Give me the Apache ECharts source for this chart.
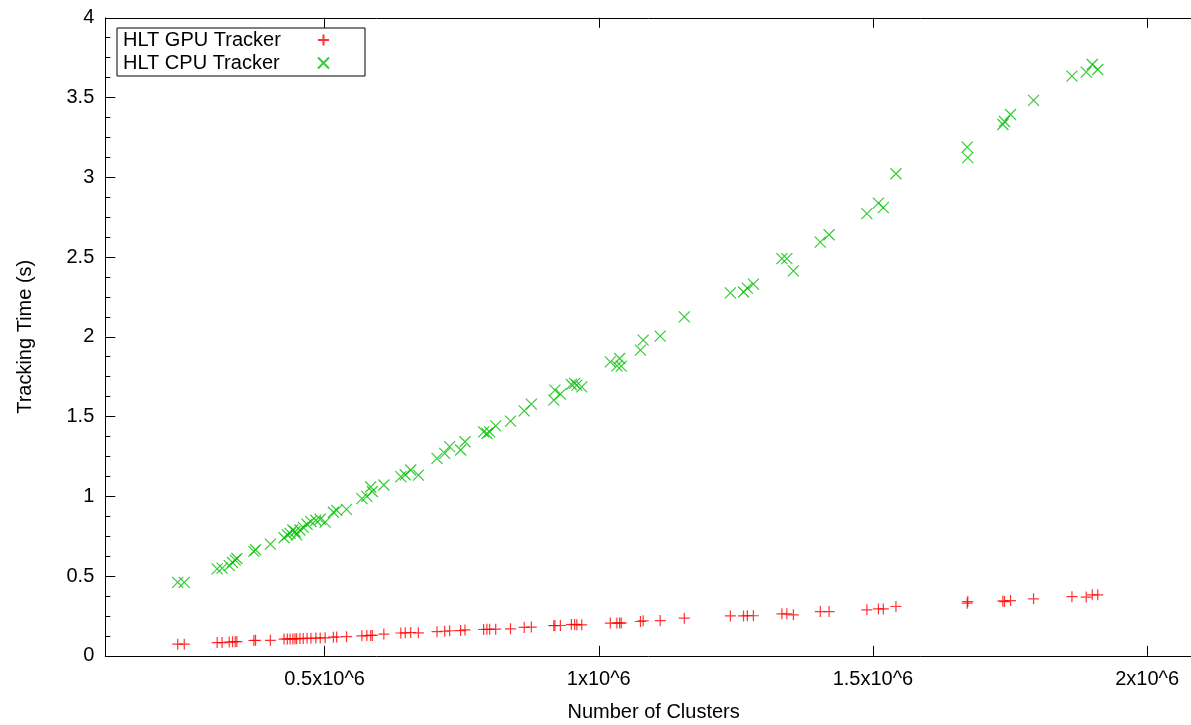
<!DOCTYPE html>
<html>
<head>
<meta charset="utf-8">
<script src="https://cdn.jsdelivr.net/npm/echarts@6/dist/echarts.min.js"></script>
<style>
html,body{margin:0;padding:0;background:#fff;}
#chart{width:1191px;height:725px;}
</style>
</head>
<body>
<div id="chart"></div>
<script>
// Number of clusters per event
const clusters = [232000, 244000, 304000, 313000, 326000, 332000, 337000, 340000, 371000, 374000,
  401000, 426000, 432000, 437000, 442000, 446000, 449000, 455000, 461000, 468000,
  475000, 484000, 492000, 501000, 516000, 522000, 540000, 568000, 577000, 584000,
  587000, 608000, 639000, 647000, 657000, 671000, 705000, 719000, 728000, 748000,
  756000, 790000, 796000, 801000, 812000, 839000, 864000, 877000, 918000, 920000,
  930000, 950000, 956000, 960000, 969000, 1021000, 1033000, 1038000, 1041000, 1076000,
  1081000, 1112000, 1156000, 1240000, 1264000, 1271000, 1282000, 1334000, 1343000, 1355000,
  1404000, 1420000, 1489000, 1510000, 1519000, 1542000, 1672000, 1673000, 1737000, 1740000,
  1751000, 1793000, 1863000, 1889000, 1900000, 1910000];
// HLT GPU Tracker time (s)
const gpuTime = [0.073, 0.073, 0.083, 0.083, 0.086, 0.088, 0.088, 0.089, 0.096, 0.097,
  0.097, 0.105, 0.106, 0.106, 0.106, 0.107, 0.107, 0.108, 0.109, 0.110,
  0.110, 0.111, 0.112, 0.113, 0.117, 0.118, 0.120, 0.125, 0.127, 0.128,
  0.128, 0.136, 0.143, 0.144, 0.146, 0.144, 0.151, 0.154, 0.157, 0.158,
  0.162, 0.165, 0.166, 0.166, 0.167, 0.169, 0.178, 0.180, 0.189, 0.190,
  0.190, 0.196, 0.197, 0.195, 0.194, 0.205, 0.205, 0.206, 0.205, 0.215,
  0.219, 0.221, 0.236, 0.250, 0.250, 0.251, 0.251, 0.263, 0.263, 0.257,
  0.277, 0.277, 0.288, 0.294, 0.294, 0.309, 0.330, 0.340, 0.344, 0.340,
  0.346, 0.357, 0.371, 0.368, 0.382, 0.382];
// HLT CPU Tracker time (s)
const cpuTime = [0.46, 0.46, 0.545, 0.55, 0.565, 0.585, 0.60, 0.61, 0.655, 0.665,
  0.70, 0.74, 0.758, 0.768, 0.789, 0.778, 0.758, 0.789, 0.805, 0.825,
  0.841, 0.850, 0.856, 0.838, 0.900, 0.912, 0.918, 0.985, 1.000, 1.058,
  1.030, 1.071, 1.123, 1.135, 1.165, 1.133, 1.238, 1.269, 1.311, 1.290,
  1.342, 1.404, 1.394, 1.404, 1.442, 1.471, 1.536, 1.578, 1.603, 1.666,
  1.641, 1.701, 1.708, 1.697, 1.686, 1.843, 1.818, 1.864, 1.816, 1.916,
  1.979, 2.004, 2.125, 2.275, 2.281, 2.305, 2.330, 2.490, 2.490, 2.413,
  2.594, 2.640, 2.772, 2.838, 2.810, 3.022, 3.189, 3.123, 3.331, 3.350,
  3.394, 3.482, 3.634, 3.659, 3.707, 3.676];

const xTickValues = [500000, 1000000, 1500000, 2000000];
const xTickLabels = ['0.5x10^6', '1x10^6', '1.5x10^6', '2x10^6'];
const seriesNames = ['HLT GPU Tracker', 'HLT CPU Tracker'];

const FONT = 'Liberation Sans, Arial, sans-serif';
const PLUS = 'path://M5,0L5,10M0,5L10,5';
const CROSS = 'path://M0,0L10,10M10,0L0,10';

function pairs(xs, ys) { return xs.map((x, i) => [x, ys[i]]); }
function xLabel(v) { const i = xTickValues.indexOf(v); return i >= 0 ? xTickLabels[i] : ''; }

const chart = echarts.init(document.getElementById('chart'), null, {renderer: 'canvas'});
chart.setOption({
  animation: false,
  backgroundColor: '#fff',
  textStyle: {fontFamily: FONT},
  grid: {left: 105.3, top: 17.8, width: 1096.6, height: 638, containLabel: false, outerBoundsMode: 'none'},
  legend: {
    orient: 'vertical', align: 'right', left: 117, top: 28,
    padding: [2, 35, 3, 6], itemGap: 3, itemWidth: 11, itemHeight: 11,
    borderColor: '#000', borderWidth: 1, backgroundColor: '#fff',
    data: seriesNames,
    formatter: n => '{a|' + n + '}',
    textStyle: {fontSize: 20, color: '#000', fontFamily: FONT,
      rich: {a: {width: 190, align: 'left', fontSize: 20, lineHeight: 20, fontFamily: FONT, color: '#000'}}}
  },
  xAxis: [{
    type: 'value', min: 100000, max: 2100000, position: 'bottom',
    name: 'Number of Clusters', nameLocation: 'middle', nameGap: 47,
    nameTextStyle: {fontSize: 20, color: '#000', fontFamily: FONT},
    axisLine: {show: true, lineStyle: {color: '#000', width: 1}},
    axisTick: {show: true, inside: true, length: 10, customValues: xTickValues, lineStyle: {color: '#000'}},
    axisLabel: {show: true, customValues: xTickValues, formatter: xLabel, margin: 14, fontSize: 20, color: '#000', fontFamily: FONT},
    splitLine: {show: false}
  }, {
    type: 'value', min: 100000, max: 2100000, position: 'top',
    axisLine: {show: true, onZero: false, lineStyle: {color: '#000', width: 1}},
    axisTick: {show: true, inside: true, length: 10, customValues: xTickValues, lineStyle: {color: '#000'}},
    axisLabel: {show: false},
    splitLine: {show: false}
  }],
  yAxis: [{
    type: 'value', min: 0, max: 4, interval: 0.5, position: 'left',
    name: 'Tracking Time (s)', nameLocation: 'middle', nameGap: 70,
    nameTextStyle: {fontSize: 20, color: '#000', fontFamily: FONT},
    axisLine: {show: true, onZero: false, lineStyle: {color: '#000', width: 1}},
    axisTick: {show: true, inside: true, length: 10, lineStyle: {color: '#000'}},
    minorTick: {show: true, splitNumber: 4, length: 5, lineStyle: {color: '#000'}},
    axisLabel: {margin: 11, fontSize: 20, color: '#000', fontFamily: FONT},
    splitLine: {show: false}
  }],
  series: [{
    name: seriesNames[0], type: 'scatter', xAxisIndex: 0, yAxisIndex: 0,
    symbol: PLUS, symbolSize: 11,
    itemStyle: {color: '#ff0000', borderColor: '#ff0000', borderWidth: 1.2},
    data: pairs(clusters, gpuTime)
  }, {
    name: seriesNames[1], type: 'scatter', xAxisIndex: 0, yAxisIndex: 0,
    symbol: CROSS, symbolSize: 11,
    itemStyle: {color: '#00c000', borderColor: '#00c000', borderWidth: 1.2},
    data: pairs(clusters, cpuTime)
  }]
});
</script>
</body>
</html>
